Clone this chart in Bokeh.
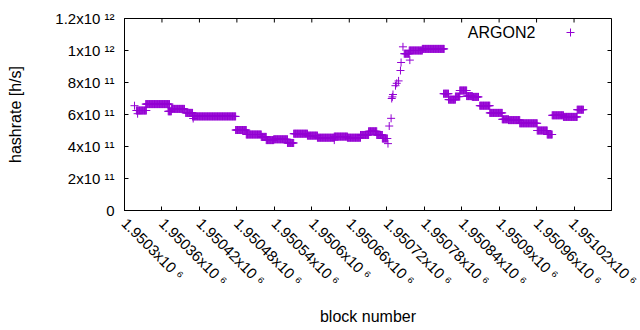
import math
from bokeh.plotting import figure
from bokeh.models import (FixedTicker, Range1d, Legend, LegendItem, Label, ColumnDataSource)
from bokeh.embed import file_html
from bokeh.resources import INLINE

# ---- data ----
# hashrate held constant over runs of blocks: [start block, end block, value h/s]
seg_start = [1950319, 1950334, 1950370, 1950375, 1950398, 1950409, 1950478, 1950495,
             1950519, 1950527, 1950539, 1950561, 1950571, 1950593, 1950609, 1950636,
             1950657, 1950678, 1950691, 1950704, 1950713,
             1950748, 1950756, 1950777,
             1950811, 1950819, 1950830, 1950837, 1950848, 1950857, 1950869, 1950885,
             1950905, 1950915, 1950933, 1950961, 1950977, 1950985, 1951003, 1951025]
seg_end = [1950335, 1950372, 1950375, 1950396, 1950409, 1950478, 1950495, 1950519,
           1950527, 1950539, 1950561, 1950571, 1950593, 1950609, 1950636, 1950657,
           1950678, 1950691, 1950704, 1950713, 1950721,
           1950756, 1950777, 1950812,
           1950819, 1950830, 1950837, 1950848, 1950857, 1950867, 1950885, 1950905,
           1950915, 1950933, 1950961, 1950977, 1950985, 1951003, 1951025, 1951035]
seg_value = [6.25e11, 6.65e11, 6.2e11, 6.35e11, 6.1e11, 5.88e11, 5.03e11, 4.75e11,
             4.6e11, 4.4e11, 4.45e11, 4.22e11, 4.8e11, 4.68e11, 4.55e11, 4.62e11,
             4.55e11, 4.72e11, 4.95e11, 4.72e11, 4.5e11,
             9.8e11, 1.0e12, 1.01e12,
             7.3e11, 6.93e11, 7.12e11, 7.5e11, 7.15e11, 7.1e11, 6.55e11, 6.1e11,
             5.7e11, 5.65e11, 5.45e11, 5.0e11, 4.75e11, 5.95e11, 5.85e11, 6.3e11]
# isolated blocks
pt_block = [1950316, 1950321, 1950410, 1950636, 1950722, 1950724, 1950727, 1950728,
            1950729, 1950730, 1950734, 1950736, 1950739, 1950742, 1950743, 1950746,
            1950757]
pt_value = [6.55e11, 6.05e11, 5.75e11, 4.4e11, 4.18e11, 5.28e11, 5.76e11, 7.0e11,
            7.1e11, 7.25e11, 7.8e11, 7.95e11, 8.1e11, 8.75e11, 9.25e11, 1.023e12,
            9.4e11]

x_ticks = [1950300, 1950360, 1950420, 1950480, 1950540, 1950600, 1950660,
           1950720, 1950780, 1950840, 1950900, 1950960, 1951020, 1951080]
x_tick_labels = ["1.9503x10 ⁶", "1.95036x10 ⁶", "1.95042x10 ⁶", "1.95048x10 ⁶",
                 "1.95054x10 ⁶", "1.9506x10 ⁶", "1.95066x10 ⁶", "1.95072x10 ⁶",
                 "1.95078x10 ⁶", "1.95084x10 ⁶", "1.9509x10 ⁶", "1.95096x10 ⁶",
                 "1.95102x10 ⁶", "1.95108x10 ⁶"]
y_ticks = [0, 2e11, 4e11, 6e11, 8e11, 1e12, 1.2e12]
y_tick_labels = ["0", "2x10 ¹¹", "4x10 ¹¹", "6x10 ¹¹", "8x10 ¹¹", "1x10 ¹²", "1.2x10 ¹²"]

series_name = "ARGON2"
COLOR = "#9400D3"
FONT = "Liberation Sans"
TICK_FONT_SIZE = "15px"
LABEL_STANDOFF = 10

blocks, values = [], []
for s, e, v in zip(seg_start, seg_end, seg_value):
    for b in range(s, e + 1):
        blocks.append(b)
        values.append(v)
blocks += pt_block
values += pt_value
src = ColumnDataSource(data=dict(b=blocks, v=values))

p = figure(width=640, height=330, output_backend="svg", toolbar_location=None,
           x_range=Range1d(x_ticks[0], x_ticks[-1]), y_range=Range1d(y_ticks[0], y_ticks[-1]),
           min_border_left=124, min_border_right=29, min_border_top=18,
           min_border_bottom=120)
p.xgrid.visible = False
p.ygrid.visible = False
p.outline_line_color = "black"
p.outline_line_alpha = 1.0
p.background_fill_color = "white"
p.border_fill_color = "white"


def style(ax, ticks, labels):
    ax.ticker = FixedTicker(ticks=ticks)
    ax.major_label_overrides = {t: l for t, l in zip(ticks, labels)}
    ax.major_tick_in = 4
    ax.major_tick_out = 0
    ax.minor_tick_in = 0
    ax.minor_tick_out = 0
    ax.axis_line_color = "black"
    ax.major_tick_line_color = "black"
    ax.major_label_text_font = FONT
    ax.major_label_text_font_size = TICK_FONT_SIZE
    ax.major_label_text_color = "black"
    ax.major_label_standoff = LABEL_STANDOFF
    ax.axis_label_text_font = FONT
    ax.axis_label_text_font_style = "normal"
    ax.axis_label_text_font_size = "16px"
    ax.axis_label_text_color = "black"


# bottom axis: the last tick lies on the right frame edge (its label runs off the page)
xa = p.xaxis[0]
style(xa, x_ticks[:-1], x_tick_labels[:-1])
xa.major_label_orientation = -math.pi / 4
xa.axis_label = "block number"
xa.axis_label_standoff = 10

ya = p.yaxis[0]
style(ya, y_ticks, y_tick_labels)
ya.axis_label = "hashrate [h/s]"
ya.axis_label_standoff = 28

# mirrored inward ticks on the top and right edges of the frame
p.ray(x=x_ticks, y=[y_ticks[-1]] * len(x_ticks), length=4, length_units="screen",
      angle=-math.pi / 2, line_color="black", line_width=1)
p.ray(x=[x_ticks[-1]] * len(y_ticks), y=y_ticks, length=4, length_units="screen",
      angle=math.pi, line_color="black", line_width=1)

r = p.scatter(x="b", y="v", source=src, marker="cross", size=8,
              line_color=COLOR, line_width=1)

legend = Legend(items=[LegendItem(label=" ", renderers=[r])], location=(436, 168),
                glyph_width=20, glyph_height=20, padding=0, margin=0, spacing=0,
                label_standoff=0, label_width=0, label_text_font_size="8px",
                border_line_alpha=0, background_fill_alpha=0)
p.add_layout(legend)
p.add_layout(Label(x=1950958, y=1.1125e12, text=series_name, text_align="right",
                   text_baseline="middle", text_font=FONT, text_font_size="16px",
                   text_color="black"))

open("out.html", "w").write(file_html(p, INLINE))
